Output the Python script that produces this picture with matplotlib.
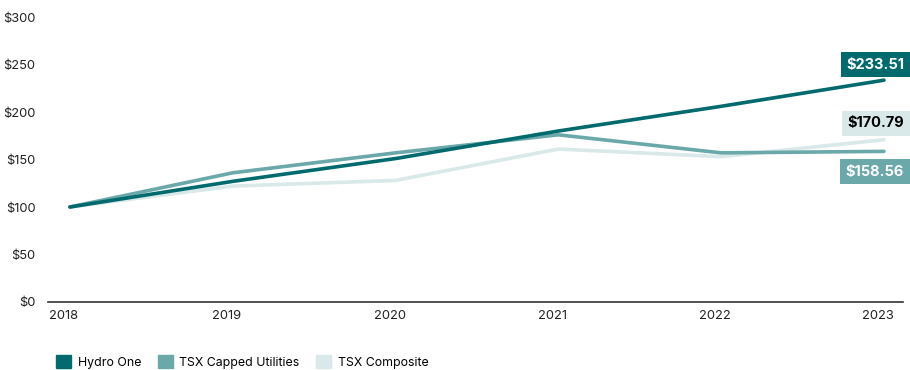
import matplotlib.pyplot as plt
import matplotlib.transforms as mtransforms

years = [2018, 2019, 2020, 2021, 2022, 2023]
hydro_one = [100, 127, 151, 180, 206, 233.51]
tsx_utilities = [100, 136, 157, 176, 157, 158.56]
tsx_composite = [100, 122, 128, 161, 153, 170.79]

series_names = ["Hydro One", "TSX Capped Utilities", "TSX Composite"]
end_labels = ["$233.51", "$170.79", "$158.56"]
label_y = [250, 188, 137]

dark = "#006a6c"
mid = "#6aa8aa"
light = "#d9e8e9"

plt.rcParams['font.family'] = ['Inter', 'DejaVu Sans']

fig = plt.figure(figsize=(9.1, 3.7), dpi=100)
ax = fig.add_axes([0.0527, 0.1838, 0.9396, 0.7702])

ax.plot(years, tsx_composite, color=light, lw=2.6, solid_capstyle='round', clip_on=False, zorder=2)
ax.plot(years, tsx_utilities, color=mid, lw=2.6, solid_capstyle='round', clip_on=False, zorder=3)
ax.plot(years, hydro_one, color=dark, lw=2.6, solid_capstyle='round', clip_on=False, zorder=4)

ax.set_xlim(2017.865, 2023.117)
ax.set_ylim(0, 300)
ax.set_xticks(years)
ax.set_yticks(range(0, 301, 50))
ax.set_yticklabels(["$" + str(v) for v in range(0, 301, 50)])
ax.tick_params(axis='both', length=0, labelsize=9.3, colors='#222222')
ax.tick_params(axis='x', pad=6)
ax.tick_params(axis='y', pad=9)
shift = mtransforms.ScaledTranslation(-6 / 100, 0, fig.dpi_scale_trans)
for lab in ax.get_xticklabels():
    lab.set_transform(lab.get_transform() + shift)

for s in ['top', 'right', 'left']:
    ax.spines[s].set_visible(False)
ax.spines['bottom'].set_color('#333333')
ax.spines['bottom'].set_linewidth(1.2)

# end value labels
trans = mtransforms.blended_transform_factory(fig.transFigure, ax.transData)
box_styles = [(dark, 'white'), (light, 'black'), (mid, 'white')]
for lab, yy, (bg, fg) in zip(end_labels, label_y, box_styles):
    ax.text(0.9935, yy, lab, transform=trans, ha='right', va='center',
            fontsize=10.5, fontweight='bold', color=fg, clip_on=False,
            bbox=dict(boxstyle='square,pad=0.38', fc=bg, ec='none'))

# legend
handles = [plt.Rectangle((0, 0), 1, 1, color=c) for c in [dark, mid, light]]
fig.legend(handles, series_names, loc='lower left', bbox_to_anchor=(0.052, -0.02),
           ncol=3, frameon=False, fontsize=8.9, handlelength=1.2, handleheight=1.2,
           handletextpad=0.55, columnspacing=1.35, borderaxespad=0.3)

fig.savefig("out.png", dpi=100)
